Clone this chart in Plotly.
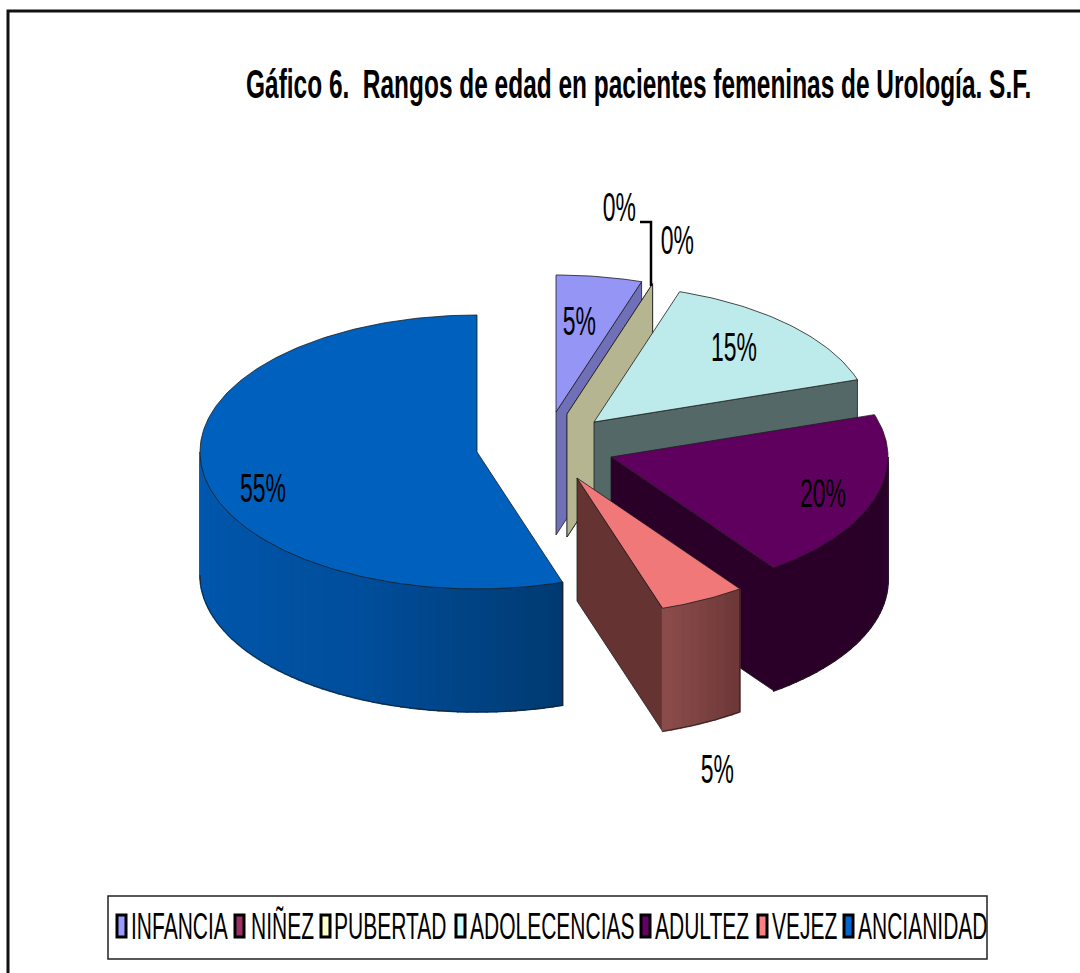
import math
import plotly.graph_objects as go

# ---- data ----
categories = ["INFANCIA", "NIÑEZ", "PUBERTAD", "ADOLECENCIAS", "ADULTEZ", "VEJEZ", "ANCIANIDAD"]
values = [5, 0, 0, 15, 20, 5, 55]
title_text = "Gáfico 6.  Rangos de edad en pacientes femeninas de Urología. S.F."

# ---- style / layout ----
legend_colors = ["#9999FF", "#993366", "#FFFFCC", "#CCFFFF", "#660066", "#FF8080", "#0066CC"]
top_colors = ["#9595F5", "#993366", "#B5B592", "#BDEBEB", "#5F005F", "#F07878", "#0060BE"]
wall_colors = ["#7070B8", "#6A2A48", "#B5B592", "#546868", "#2A0028", "#663333", "#0058AE"]
outer_stops = [
    [(0, "#2A0028"), (1, "#2A0028")],  # adultez
    [(0, "#8C4C4C"), (1, "#6C3737")],  # vejez
    [(0, "#0059B0"), (0.6, "#004E9C"), (1, "#003A70")],  # ancianidad
]
apex_x = [556, 567, 567, 594, 611, 577, 477]
apex_y = [412, 414, 414, 422, 457, 478, 452]
RX, RY, DEPTH = 277, 137, 123
OUTLINE = "#1c1c1c"

label_x = [579, 619, 677, 734, 823, 717, 263]
label_y = [321, 207, 240, 347, 493, 769, 488]
swatch_x = [117, 235, 321, 456, 641, 758, 844]
legend_text_x = [129, 249, 332, 468, 653, 770, 856]


def hex_rgb(c):
    return tuple(int(c[i:i + 2], 16) for i in (1, 3, 5))


def grad(stops, t):
    for (t0, c0), (t1, c1) in zip(stops, stops[1:]):
        if t <= t1:
            f = (t - t0) / (t1 - t0)
            a, b = hex_rgb(c0), hex_rgb(c1)
            return "rgb(%d,%d,%d)" % tuple(round(a[k] + (b[k] - a[k]) * f) for k in range(3))
    return stops[-1][1]


def pt(cx, cy, deg, dz=0):
    r = math.radians(deg)
    return cx + RX * math.sin(r), cy - RY * math.cos(r) + dz


fig = go.Figure()


def poly(pts, fill, line=None, width=0.8):
    xs = [p[0] for p in pts] + [pts[0][0]]
    ys = [p[1] for p in pts] + [pts[0][1]]
    fig.add_trace(go.Scatter(
        x=xs, y=ys, mode="lines", fill="toself", fillcolor=fill,
        line=dict(color=line or fill, width=width),
        showlegend=False, hoverinfo="skip"))


total = sum(values)
cum = 0
grad_idx = 0
for i, v in enumerate(values):
    a = cum / total * 360
    b = (cum + v) / total * 360
    cum += v
    cx, cy = apex_x[i], apex_y[i]
    # radial wall at the end of the wedge, when it faces the viewer
    if math.cos(math.radians(b + 90 - 180)) > 1e-6:
        rim = pt(cx, cy, b)
        poly([(cx, cy), rim, (rim[0], rim[1] + DEPTH), (cx, cy + DEPTH)], wall_colors[i], OUTLINE)
    # outer curved wall, front half only
    lo, hi = max(a, 90), min(b, 270)
    if hi > lo:
        stops = outer_stops[grad_idx]
        grad_idx += 1
        n = max(2, int((hi - lo) / 2))
        for k in range(n):
            t0, t1 = lo + (hi - lo) * k / n, lo + (hi - lo) * (k + 1) / n
            tx = 1 - (k + 0.5) / n  # 0 at the left end of the wall, 1 at the right end
            p0, p1 = pt(cx, cy, t0), pt(cx, cy, t1)
            poly([p0, p1, (p1[0], p1[1] + DEPTH), (p0[0], p0[1] + DEPTH)], grad(stops, tx), width=1.6)
        steps = [lo + (hi - lo) * k / 80 for k in range(81)]
        upper = [pt(cx, cy, d) for d in steps]
        lower = [pt(cx, cy, d, DEPTH) for d in steps]
        fig.add_trace(go.Scatter(
            x=[p[0] for p in lower] + [None, lower[0][0], upper[0][0]],
            y=[p[1] for p in lower] + [None, lower[0][1], upper[0][1]],
            mode="lines", line=dict(color=OUTLINE, width=0.8), showlegend=False, hoverinfo="skip"))
    # top face
    if v > 0:
        n = max(2, int(b - a))
        arc = [pt(cx, cy, a + (b - a) * k / n) for k in range(n + 1)]
        poly([(cx, cy)] + arc, top_colors[i], OUTLINE)

TEXT = dict(family="'Liberation Sans Narrow', 'Liberation Sans', Arial, sans-serif", color="#000000")
anns = [dict(x=244, y=84, xref="x", yref="y", xanchor="left", yanchor="middle", showarrow=False,
             text="<b>%s</b>" % title_text, font=dict(size=29, **TEXT))]
for v, x, y in zip(values, label_x, label_y):
    anns.append(dict(x=x, y=y, xref="x", yref="y", xanchor="center", yanchor="middle", showarrow=False,
                     text="%d%%" % v, font=dict(size=28, **TEXT)))
for c, x in zip(categories, legend_text_x):
    anns.append(dict(x=x, y=926, xref="x", yref="y", xanchor="left", yanchor="middle", showarrow=False,
                     text=c, font=dict(size=25, **TEXT)))

shapes = [
    dict(type="path", path="M 8 973 L 8 11 L 1080 11", line=dict(color="#111111", width=3)),
    dict(type="rect", x0=108, y0=896, x1=987, y1=959, line=dict(color="#222222", width=1.5),
         fillcolor="rgba(0,0,0,0)", layer="below"),
    dict(type="path", path="M 640 222 L 651 222 L 651 286", line=dict(color="#000000", width=2.5)),
]
for x, c in zip(swatch_x, legend_colors):
    shapes.append(dict(type="rect", x0=x, x1=x + 9, y0=915, y1=937, fillcolor=c,
                       line=dict(color="#000000", width=3)))

fig.update_layout(
    width=1080, height=973, margin=dict(l=0, r=0, t=0, b=0),
    paper_bgcolor="#FFFFFF", plot_bgcolor="#FFFFFF", showlegend=False,
    xaxis=dict(range=[0, 1080], visible=False, fixedrange=True),
    yaxis=dict(range=[973, 0], visible=False, fixedrange=True),
    annotations=anns, shapes=shapes,
)

post = """
document.body.style.margin = '0';
var texts = document.querySelectorAll('text.annotation-text');
texts.forEach(function (t, i) {
  t.style.transformBox = 'fill-box';
  var isLabel = i >= 1 && i <= 7;
  t.style.transformOrigin = isLabel ? 'center' : 'left center';
  t.style.transform = i === 0 ? 'scale(0.843,1.42)' : (isLabel ? 'scale(0.82,1.45)' : 'scale(0.84,1.45)');
});
"""
fig.write_html("out.html", post_script=post, config={"displayModeBar": False})
